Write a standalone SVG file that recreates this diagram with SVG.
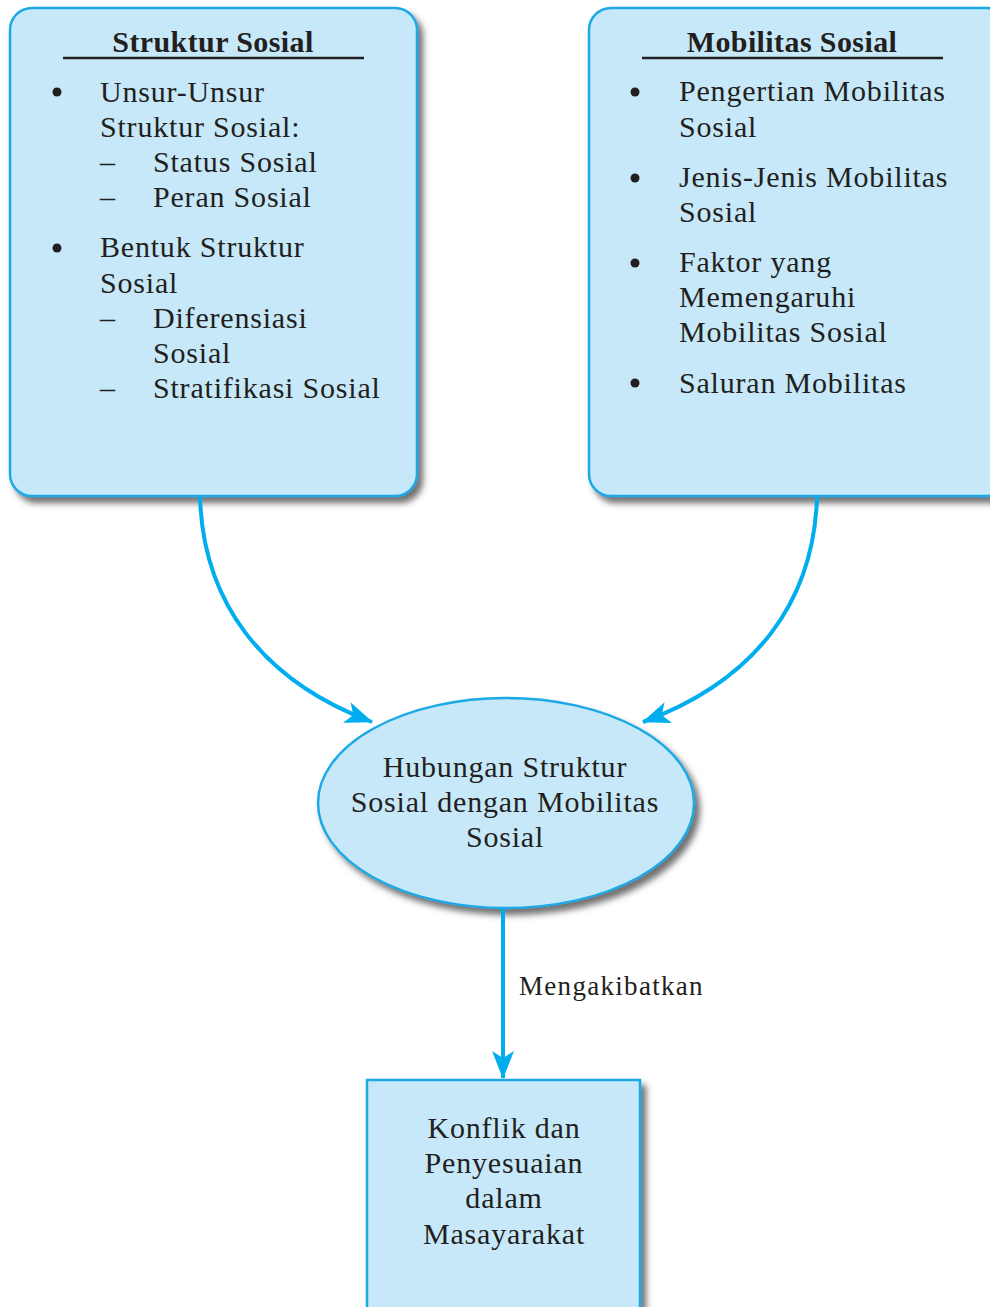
<svg xmlns="http://www.w3.org/2000/svg" width="990" height="1307" viewBox="0 0 990 1307">
  <style>
    .box { fill: #c6e8f8; stroke: #1aa9e6; stroke-width: 2.5; }
    .txt { font-family: "Liberation Serif", "Times New Roman", serif; font-size: 30px; letter-spacing: 0.8px; fill: #231f20; }
    .title { font-family: "Liberation Serif", "Times New Roman", serif; font-size: 30px; letter-spacing: 0.4px; font-weight: bold; fill: #231f20; }
    .mid { text-anchor: middle; }
    .rule { stroke: #231f20; stroke-width: 2.5; }
    .dot { fill: #231f20; }
    .conn { fill: none; stroke: #00aeef; stroke-width: 4; }
    .lbl { font-family: "Liberation Serif", "Times New Roman", serif; font-size: 27px; letter-spacing: 1.3px; fill: #231f20; }
  </style>
  <defs>
    <filter id="shadow" x="-10%" y="-10%" width="130%" height="130%">
      <feDropShadow dx="5" dy="6" stdDeviation="3" flood-color="#444" flood-opacity="0.75"/>
    </filter>
    <marker id="arrow" markerUnits="userSpaceOnUse" markerWidth="28" markerHeight="22" refX="27" refY="11" orient="auto">
      <path d="M0,0 L28,11 L0,22 L7,11 z" fill="#00aeef"/>
    </marker>
  </defs>

  <rect width="990" height="1307" fill="#ffffff"/>

  <!-- Struktur Sosial -->
  <g id="struktur-sosial">
    <rect class="box" x="10" y="8" width="407" height="488" rx="22" filter="url(#shadow)"/>
    <text class="title mid" x="213" y="52">Struktur Sosial</text>
    <line class="rule" x1="63" y1="58" x2="364" y2="58"/>
    <circle class="dot" cx="57" cy="92" r="4.5"/>
    <text class="txt" x="100" y="102">Unsur-Unsur</text>
    <text class="txt" x="100" y="137">Struktur Sosial:</text>
    <text class="txt" x="100" y="172">–</text>
    <text class="txt" x="153" y="172">Status Sosial</text>
    <text class="txt" x="100" y="207">–</text>
    <text class="txt" x="153" y="207">Peran Sosial</text>
    <circle class="dot" cx="57" cy="248" r="4.5"/>
    <text class="txt" x="100" y="257">Bentuk Struktur</text>
    <text class="txt" x="100" y="293">Sosial</text>
    <text class="txt" x="100" y="328">–</text>
    <text class="txt" x="153" y="328">Diferensiasi</text>
    <text class="txt" x="153" y="363">Sosial</text>
    <text class="txt" x="100" y="398">–</text>
    <text class="txt" x="153" y="398">Stratifikasi Sosial</text>
  </g>

  <!-- Mobilitas Sosial -->
  <g id="mobilitas-sosial">
    <rect class="box" x="589" y="8" width="420" height="488" rx="22" filter="url(#shadow)"/>
    <text class="title mid" x="792" y="52">Mobilitas Sosial</text>
    <line class="rule" x1="642" y1="58" x2="943" y2="58"/>
    <circle class="dot" cx="635" cy="92" r="4.5"/>
    <text class="txt" x="679" y="101">Pengertian Mobilitas</text>
    <text class="txt" x="679" y="137">Sosial</text>
    <circle class="dot" cx="635" cy="178" r="4.5"/>
    <text class="txt" x="679" y="187">Jenis-Jenis Mobilitas</text>
    <text class="txt" x="679" y="222">Sosial</text>
    <circle class="dot" cx="635" cy="263" r="4.5"/>
    <text class="txt" x="679" y="272">Faktor yang</text>
    <text class="txt" x="679" y="307">Memengaruhi</text>
    <text class="txt" x="679" y="342">Mobilitas Sosial</text>
    <circle class="dot" cx="635" cy="383" r="4.5"/>
    <text class="txt" x="679" y="393">Saluran Mobilitas</text>
  </g>

  <!-- Hubungan -->
  <g id="hubungan">
    <ellipse class="box" cx="506" cy="803" rx="188" ry="105" filter="url(#shadow)"/>
    <text class="txt mid" x="505" y="777">Hubungan Struktur</text>
    <text class="txt mid" x="505" y="812">Sosial dengan Mobilitas</text>
    <text class="txt mid" x="505" y="847">Sosial</text>
  </g>

  <!-- Konflik -->
  <g id="konflik">
    <rect class="box" x="367" y="1080" width="273" height="240" filter="url(#shadow)"/>
    <text class="txt mid" x="504" y="1138">Konflik dan</text>
    <text class="txt mid" x="504" y="1173">Penyesuaian</text>
    <text class="txt mid" x="504" y="1208">dalam</text>
    <text class="txt mid" x="504" y="1244">Masayarakat</text>
  </g>

  <!-- Connectors -->
  <g id="connectors">
    <path class="conn" d="M200,497 C203,600 260,680 372,722" marker-end="url(#arrow)"/>
    <path class="conn" d="M817,497 C814,600 757,680 643,722" marker-end="url(#arrow)"/>
    <path class="conn" d="M503,909 L503,1078" marker-end="url(#arrow)"/>
    <text class="lbl" x="519" y="995">Mengakibatkan</text>
  </g>
</svg>
